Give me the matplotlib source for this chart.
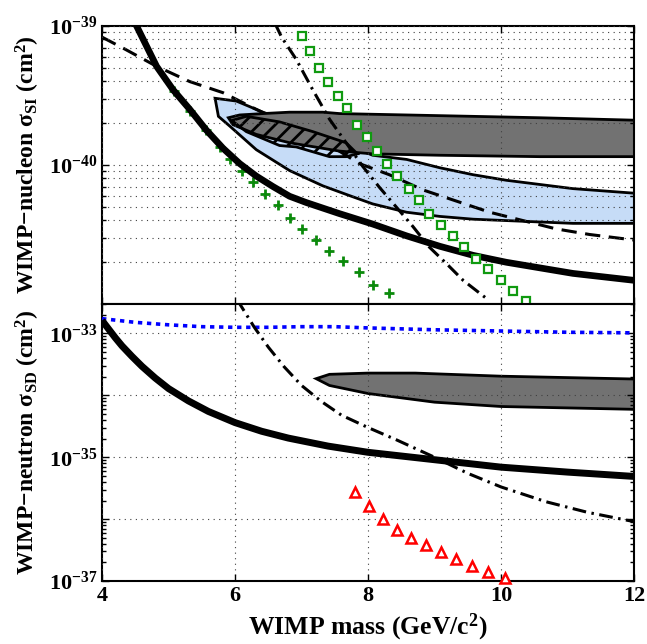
import matplotlib
matplotlib.use('Agg')
import matplotlib.pyplot as plt
import numpy as np
from matplotlib.ticker import FixedLocator, FixedFormatter, LogLocator, NullFormatter

plt.rcParams['font.family'] = 'Liberation Serif'
plt.rcParams['font.weight'] = 'bold'
plt.rcParams['mathtext.fontset'] = 'custom'
plt.rcParams['mathtext.rm'] = 'Liberation Serif:bold'
plt.rcParams['mathtext.bf'] = 'Liberation Serif:bold'
plt.rcParams['mathtext.it'] = 'Liberation Serif:bold:italic'
plt.rcParams['hatch.linewidth'] = 2.0

# ---- spin-independent panel (mass in GeV/c^2, log10 of cross section in cm^2) ----
si_limit_m = [4.45, 4.52, 4.82, 5.07, 5.32, 5.57, 5.82, 6.07, 6.32, 6.57, 6.82, 7.07, 7.32, 7.57,
              8.07, 8.58, 9.08, 9.58, 10.08, 10.58, 11.08, 12.0]
si_limit_log = [-38.95, -39.0, -39.29, -39.46, -39.60, -39.75, -39.88, -39.99, -40.08, -40.155, -40.225,
                -40.27, -40.31, -40.35, -40.425, -40.51, -40.585, -40.65, -40.70, -40.74, -40.78, -40.83]

si_dash_m = [4.0, 4.32, 4.82, 5.32, 5.82, 6.32, 7.0, 7.5, 7.87, 8.32, 8.83, 9.33, 9.83, 10.33, 10.83,
             11.33, 12.0]
si_dash_log = [-39.08, -39.16, -39.29, -39.40, -39.48, -39.60, -39.76, -39.88, -39.99, -40.07, -40.18,
               -40.26, -40.34, -40.40, -40.46, -40.50, -40.54]

si_dashdot_m = [6.6, 6.70, 6.92, 7.17, 7.42, 7.67, 7.92, 8.17, 8.42, 8.67, 8.92, 9.18, 9.43, 9.78]
si_dashdot_log = [-38.98, -39.08, -39.24, -39.46, -39.67, -39.84, -40.01, -40.16, -40.30, -40.44,
                  -40.59, -40.71, -40.83, -40.96]

si_square_m = [7.00, 7.12, 7.26, 7.40, 7.55, 7.68, 7.83, 7.98, 8.13, 8.29, 8.44, 8.61, 8.76, 8.92,
               9.10, 9.27, 9.45, 9.63, 9.81, 10.0, 10.18, 10.38]
si_square_log = [-39.07, -39.18, -39.30, -39.40, -39.50, -39.59, -39.71, -39.80, -39.90, -39.99,
                 -40.08, -40.17, -40.25, -40.35, -40.43, -40.51, -40.59, -40.68, -40.75, -40.83,
                 -40.91, -40.98]

si_plus_m = [5.08, 5.33, 5.57, 5.77, 5.92, 6.10, 6.27, 6.45, 6.64, 6.82, 7.01, 7.21, 7.42,
             7.63, 7.86, 8.07, 8.31]
si_plus_log = [-39.47, -39.61, -39.75, -39.87, -39.96, -40.04, -40.12, -40.21, -40.29,
               -40.38, -40.46, -40.54, -40.62, -40.69, -40.77, -40.86, -40.92]

si_blue_m = [5.70, 6.02, 6.42, 7.0, 7.5, 8.07, 8.58, 9.08, 9.58, 10.08, 10.58, 11.08, 12.2,
             12.2, 11.08, 10.58, 10.08, 9.58, 9.08, 8.58, 8.07, 7.72, 7.32, 6.82, 6.32, 5.92, 5.75]
si_blue_log = [-39.52, -39.54, -39.62, -39.72, -39.82, -39.93, -39.96, -40.02, -40.07, -40.11, -40.14,
               -40.17, -40.21, -40.42, -40.42, -40.41, -40.40, -40.39, -40.37, -40.34, -40.28, -40.22,
               -40.15, -40.04, -39.89, -39.72, -39.65]

si_gray_m = [5.90, 6.07, 6.42, 6.82, 7.32, 7.57, 8.58, 9.58, 10.58, 12.2,
             12.2, 10.58, 9.08, 8.07, 7.57, 7.32, 6.82, 6.32, 5.97]
si_gray_log = [-39.66, -39.64, -39.63, -39.62, -39.62, -39.63, -39.64, -39.65, -39.66, -39.68,
               -39.94, -39.94, -39.93, -39.92, -39.90, -39.88, -39.84, -39.78, -39.71]

si_hatch_m = [5.95, 6.17, 6.67, 7.17, 7.67, 7.84, 7.67, 7.42, 6.92, 6.67, 6.17]
si_hatch_log = [-39.68, -39.65, -39.69, -39.76, -39.84, -39.92, -39.94, -39.94, -39.87, -39.86, -39.76]

# ---- spin-dependent panel ----
sd_blue_m = [4.0, 4.5, 5.0, 5.5, 6.0, 6.5, 7.0, 7.5, 8.0, 9.0, 10.0, 11.0, 12.0]
sd_blue_log = [-32.76, -32.82, -32.86, -32.89, -32.90, -32.90, -32.89, -32.89, -32.91, -32.94, -32.96,
               -32.98, -32.99]

sd_limit_m = [4.0, 4.1, 4.2, 4.3, 4.45, 4.6, 4.8, 5.0, 5.3, 5.6, 6.0, 6.4, 6.8, 7.4, 8.0, 9.0, 10.0,
              11.0, 12.0]
sd_limit_log = [-32.79, -32.93, -33.07, -33.2, -33.37, -33.53, -33.72, -33.89, -34.09, -34.26, -34.44,
                -34.58, -34.69, -34.82, -34.92, -35.04, -35.16, -35.24, -35.31]

sd_dashdot_m = [6.02, 6.07, 6.29, 6.5, 6.74, 7.0, 7.3, 7.6, 8.0, 8.43, 9.0, 9.5, 10.0, 10.68, 11.3, 12.0]
sd_dashdot_log = [-32.45, -32.52, -32.90, -33.22, -33.54, -33.84, -34.10, -34.32, -34.52, -34.72, -35.0,
                  -35.26, -35.48, -35.72, -35.89, -36.04]

sd_gray_m = [7.22, 7.42, 8.0, 8.71, 10.0, 12.2, 12.2, 10.0, 9.0, 8.0, 7.42]
sd_gray_log = [-33.73, -33.66, -33.64, -33.64, -33.69, -33.74, -34.23, -34.18, -34.11, -33.97, -33.84]

sd_tri_m = [7.81, 8.01, 8.22, 8.44, 8.65, 8.87, 9.10, 9.33, 9.57, 9.81, 10.06]
sd_tri_log = [-35.56, -35.79, -35.99, -36.17, -36.30, -36.41, -36.53, -36.65, -36.76, -36.86, -36.95]

x_ticks = [4, 6, 8, 10, 12]
si_yticks = [1e-40, 1e-39]
si_ylabels = [r'$10^{-40}$', r'$10^{-39}$']
sd_yticks = [1e-37, 1e-36, 1e-35, 1e-34, 1e-33]
sd_ylabels = [r'$10^{-37}$', '', r'$10^{-35}$', '', r'$10^{-33}$']


def lg(a):
    return np.power(10.0, np.asarray(a))


grid_style = dict(color='#404040', linestyle=(0, (1, 4)), linewidth=0.8)
blue_fill = '#c6dcf7'
gray_fill = '#727272'

fig = plt.figure(figsize=(6.47, 6.44), dpi=100)
ax1 = fig.add_axes([0.1577, 0.528, 0.8223, 0.4316])
ax2 = fig.add_axes([0.1577, 0.0978, 0.8223, 0.4302])

for ax in (ax1, ax2):
    ax.set_yscale('log')
    ax.set_xlim(4, 12)
    ax.set_axisbelow(False)
    for sp in ax.spines.values():
        sp.set_linewidth(1.5)
    ax.xaxis.set_major_locator(FixedLocator(x_ticks))
    ax.tick_params(which='both', direction='in', top=True, right=True, width=1.0)
    ax.tick_params(which='major', length=5, labelsize=16)
    ax.tick_params(which='minor', length=3)
    ax.grid(True, axis='x', which='major', **grid_style)

# top panel
ax1.set_ylim(1e-41, 1e-39)
ax1.yaxis.set_major_locator(FixedLocator(si_yticks))
ax1.yaxis.set_major_formatter(FixedFormatter(si_ylabels))
ax1.yaxis.set_minor_locator(LogLocator(base=10, subs=np.arange(2, 10)))
ax1.yaxis.set_minor_formatter(NullFormatter())
ax1.grid(True, axis='y', which='both', **grid_style)
ax1.tick_params(axis='x', labelbottom=False)

ax1.fill(si_blue_m, lg(si_blue_log), facecolor=blue_fill, edgecolor='k', linewidth=2, zorder=1)
ax1.plot(si_dash_m, lg(si_dash_log), color='k', linewidth=2.2, dashes=(5, 2.8), zorder=1.5)
ax1.fill(si_gray_m, lg(si_gray_log), facecolor=gray_fill, edgecolor='k', linewidth=2, zorder=2)
ax1.fill(si_hatch_m, lg(si_hatch_log), facecolor='none', edgecolor='k', hatch='//', linewidth=2, zorder=2.2)
ax1.plot(si_plus_m, lg(si_plus_log), linestyle='none', marker='+', markersize=7, markeredgewidth=2,
         color='#0b8a0b', zorder=2.6)
ax1.plot(si_limit_m, lg(si_limit_log), color='k', linewidth=4.8, zorder=3, solid_capstyle='butt')
ax1.plot(si_dashdot_m, lg(si_dashdot_log), color='k', linewidth=2.2, dashes=(4.5, 1.8, 0.8, 1.8), zorder=3.2)
ax1.plot(si_square_m, lg(si_square_log), linestyle='none', marker='s', markersize=6, markeredgewidth=1.6,
         markerfacecolor='white', markeredgecolor='#109a10', zorder=4)
ax1.set_ylabel('WIMP\u2212nucleon \u03c3$_{\\rm SI}$ (cm$^{2}$)', fontsize=17, fontweight='bold')
ax1.yaxis.set_label_coords(-0.112, 0.5)

# bottom panel
ax2.set_ylim(1e-37, 3e-33)
ax2.yaxis.set_major_locator(FixedLocator(sd_yticks))
ax2.yaxis.set_major_formatter(FixedFormatter(sd_ylabels))
ax2.yaxis.set_minor_locator(LogLocator(base=10, subs=np.arange(2, 10)))
ax2.yaxis.set_minor_formatter(NullFormatter())
ax2.grid(True, axis='y', which='major', **grid_style)

ax2.fill(sd_gray_m, lg(sd_gray_log), facecolor=gray_fill, edgecolor='k', linewidth=2, zorder=2)
ax2.plot(sd_blue_m, lg(sd_blue_log), color='#0000ff', linewidth=2.6, dashes=(1.2, 1.3), zorder=3)
ax2.plot(sd_limit_m, lg(sd_limit_log), color='k', linewidth=5, zorder=3, solid_capstyle='butt')
ax2.plot(sd_dashdot_m, lg(sd_dashdot_log), color='k', linewidth=2.2, dashes=(4.5, 1.8, 0.8, 1.8), zorder=3.2)
ax2.plot(sd_tri_m, lg(sd_tri_log), linestyle='none', marker='^', markersize=7, markeredgewidth=1.8,
         markerfacecolor='white', markeredgecolor='#ff0000', zorder=4, clip_on=False)
ax2.set_ylabel('WIMP\u2212neutron \u03c3$_{\\rm SD}$ (cm$^{2}$)', fontsize=17, fontweight='bold')
ax2.yaxis.set_label_coords(-0.112, 0.5)
ax2.set_xlabel('WIMP mass (GeV/c$^{2}$)', fontsize=18.5, fontweight='bold')

fig.savefig('out.png', dpi=100)
